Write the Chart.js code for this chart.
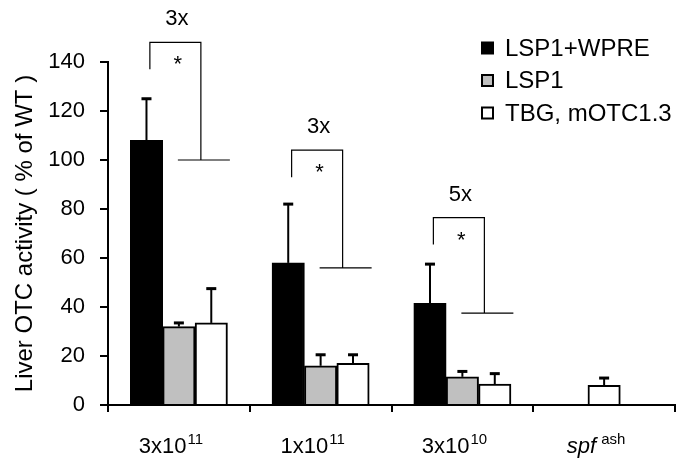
<!DOCTYPE html>
<html><head><meta charset="utf-8">
<script src="https://cdn.jsdelivr.net/npm/chart.js@4/dist/chart.umd.min.js"></script>
<style>html,body{margin:0;padding:0;background:#fff;} #wrap{width:689px;height:464px;}</style>
</head><body><div id="wrap"><canvas id="c" width="689" height="464"></canvas></div>
<script>
// ---- data ----
const categories = ['3x10', '1x10', '3x10', 'spf'];
const categorySup = ['11', '11', '10', 'ash'];
const seriesNames = ['LSP1+WPRE', 'LSP1', 'TBG, mOTC1.3'];
const lsp1Wpre = [108, 58, 41.5, null];
const lsp1WpreErr = [17, 24, 16, null];
const lsp1 = [32, 16, 11.5, null];
const lsp1Err = [1.5, 4.5, 2.2, null];
const tbg = [33.5, 17, 8.5, 8];
const tbgErr = [14, 3.5, 4.3, 3];
const yTicks = [0, 20, 40, 60, 80, 100, 120, 140];
const foldLabels = ['3x', '3x', '5x'];
const sigLabels = ['*', '*', '*'];
const bracketTop = [148, 104, 76.5];
const bracketLeftEnd = [137, 93, 65.5];
const bracketRightEnd = [100, 56, 37.5];

const FONT = '"Liberation Sans", Arial, sans-serif';
const errors = [lsp1WpreErr, lsp1Err, tbgErr];

const errorBarPlugin = {
  id: 'errorBars',
  afterDatasetsDraw(chart) {
    const ctx = chart.ctx, y = chart.scales.y;
    chart.data.datasets.forEach((ds, di) => {
      const meta = chart.getDatasetMeta(di);
      meta.data.forEach((el, i) => {
        const v = ds.data[i], e = errors[di][i];
        if (v == null || e == null) return;
        const yt = y.getPixelForValue(v + e);
        ctx.save();
        ctx.strokeStyle = '#000'; ctx.lineWidth = 2;
        ctx.beginPath(); ctx.moveTo(el.x, el.y); ctx.lineTo(el.x, yt); ctx.stroke();
        ctx.fillStyle = '#000';
        ctx.fillRect(el.x - 5, yt - 1.5, 10, 3);
        ctx.restore();
      });
    });
  }
};

const annotPlugin = {
  id: 'annot',
  afterDraw(chart) {
    const ctx = chart.ctx, x = chart.scales.x, y = chart.scales.y;
    ctx.save();
    // brackets
    ctx.strokeStyle = '#000'; ctx.lineWidth = 1.2;
    foldLabels.forEach((lab, i) => {
      const cx = x.getPixelForValue(i);
      const xl = cx - 29, xr = cx + 22;
      const yt = y.getPixelForValue(bracketTop[i]);
      const yl = y.getPixelForValue(bracketLeftEnd[i]);
      const yr = y.getPixelForValue(bracketRightEnd[i]);
      ctx.beginPath();
      ctx.moveTo(xl, yl); ctx.lineTo(xl, yt); ctx.lineTo(xr, yt); ctx.lineTo(xr, yr);
      ctx.moveTo(cx - 1, yr); ctx.lineTo(cx + 51, yr);
      ctx.stroke();
      ctx.fillStyle = '#000';
      ctx.textAlign = 'center'; ctx.textBaseline = 'alphabetic';
      ctx.font = '22px ' + FONT;
      ctx.fillText(lab, cx - 2, yt - 17);
      ctx.fillText(sigLabels[i], cx - 1, yt + 29);
    });
    // x labels with superscripts
    categories.forEach((c, i) => {
      const cx = x.getPixelForValue(i) - 8;
      const italic = (i === 3);
      const mainFont = (italic ? 'italic ' : '') + '22px ' + FONT;
      const supFont = '15px ' + FONT;
      ctx.font = mainFont; const w1 = ctx.measureText(c).width;
      ctx.font = supFont; const w2 = ctx.measureText(categorySup[i]).width;
      const gap = italic ? 5 : 1;
      let sx = cx - (w1 + gap + w2) / 2;
      ctx.textAlign = 'left'; ctx.fillStyle = '#000';
      ctx.font = mainFont; ctx.fillText(c, sx, 453);
      ctx.font = supFont; ctx.fillText(categorySup[i], sx + w1 + gap, 444);
    });
    // legend
    const colors = ['#000', '#c0c0c0', '#fff'];
    seriesNames.forEach((n, i) => {
      const cy = 48 + i * 32.5;
      ctx.fillStyle = colors[i];
      ctx.fillRect(482, cy - 5.5, 11, 11);
      ctx.strokeStyle = '#000'; ctx.lineWidth = 2;
      ctx.strokeRect(482, cy - 5.5, 11, 11);
      ctx.fillStyle = '#000';
      ctx.font = '24px ' + FONT; ctx.textAlign = 'left'; ctx.textBaseline = 'middle';
      ctx.fillText(n, 505, cy + 1);
    });
    ctx.restore();
  }
};

new Chart(document.getElementById('c'), {
  type: 'bar',
  data: {
    labels: categories.map((c, i) => c + categorySup[i]),
    datasets: [
      { label: seriesNames[0], data: lsp1Wpre, backgroundColor: '#000', borderColor: '#000', borderWidth: 2 },
      { label: seriesNames[1], data: lsp1, backgroundColor: '#c0c0c0', borderColor: '#000', borderWidth: 2 },
      { label: seriesNames[2], data: tbg, backgroundColor: '#fff', borderColor: '#000', borderWidth: 2 }
    ]
  },
  options: {
    responsive: false,
    devicePixelRatio: 1,
    animation: false,
    skipNull: true,
    barThickness: 32.4,
    layout: { padding: { top: 62, right: 14, left: 0, bottom: 0 } },
    plugins: { legend: { display: false }, tooltip: { enabled: false } },
    scales: {
      x: {
        grid: { drawOnChartArea: false, drawTicks: true, tickLength: 7, color: '#000', lineWidth: 2, offset: true },
        border: { color: '#000', width: 2 },
        ticks: { display: false },
        afterFit(s) { s.height = 59; }
      },
      y: {
        min: 0, max: 140,
        afterBuildTicks(s) { s.ticks = yTicks.map(v => ({ value: v })); },
        ticks: { color: '#000', font: { family: FONT, size: 22 }, padding: 15 },
        grid: { drawOnChartArea: false, drawTicks: true, tickLength: 8, color: '#000', lineWidth: 2 },
        border: { color: '#000', width: 2 },
        title: { display: true, text: 'Liver OTC activity ( % of WT )', color: '#000', font: { family: FONT, size: 24 }, padding: { top: 11, bottom: 0 } },
        afterFit(s) { s.width = 108; }
      }
    }
  },
  plugins: [errorBarPlugin, annotPlugin]
});
</script>
</body></html>
